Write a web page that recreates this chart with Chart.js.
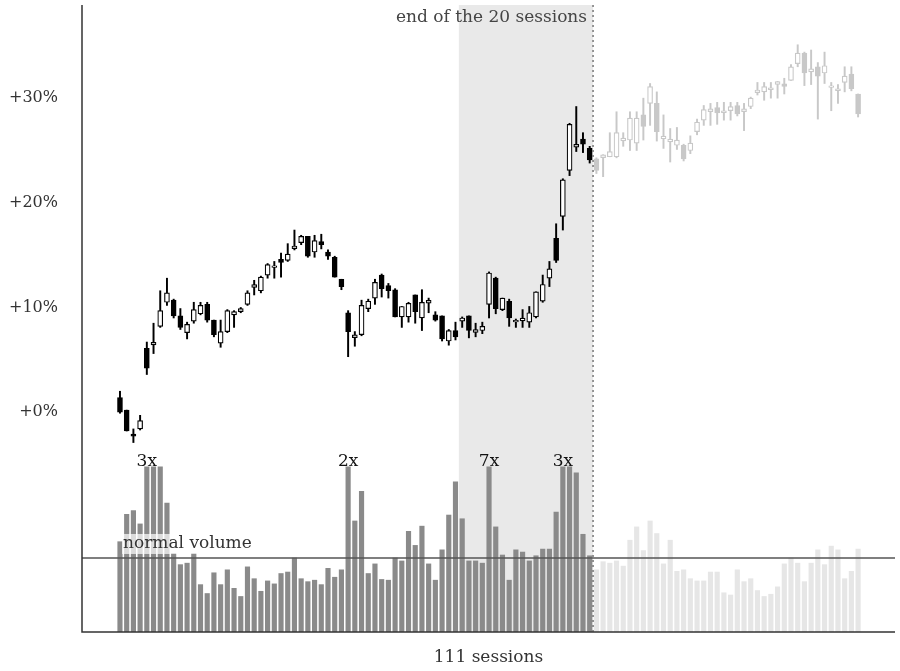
<!DOCTYPE html>
<html>
<head>
<meta charset="utf-8">
<script src="https://cdn.jsdelivr.net/npm/chart.js@4/dist/chart.umd.min.js"></script>
<style>
  html, body { margin: 0; padding: 0; background: #fff; overflow: hidden; }
</style>
</head>
<body>
<canvas id="chart" width="900" height="671"></canvas>
<script>
// daily candles, % change vs. start
const opens  = [1.4,0.2,-2.1,-1.6,6.1,6.5,8.2,10.5,10.7,9.2,7.6,8.7,9.4,10.3,8.8,6.6,7.7,9.3,9.6,10.3,
  12.0,11.6,13.1,13.9,14.6,14.5,15.7,16.2,16.8,15.3,16.3,15.3,14.8,12.7,9.5,7.2,7.4,9.9,10.9,13.1,
  12.1,11.7,9.1,9.1,11.2,9.0,10.5,9.3,9.2,6.8,7.8,8.7,9.2,7.7,7.8,10.3,12.8,9.8,10.6,8.7,
  8.8,8.6,9.1,10.6,12.8,16.6,18.7,23.1,25.4,26.1,25.2,24.2,24.4,24.4,24.4,26.0,26.0,25.7,28.4,29.5,
  29.5,26.2,25.9,25.5,25.5,25.0,26.8,27.9,28.8,29.1,28.7,28.8,29.3,28.8,29.2,30.6,30.6,30.9,31.4,31.3,
  31.7,33.3,34.3,32.5,33.0,32.4,31.1,30.8,31.5,32.3,30.4];
const highs  = [2.0,0.2,-1.6,-0.3,6.7,8.5,11.6,12.8,10.8,9.9,8.6,10.5,10.5,10.5,8.8,8.8,9.8,9.7,10.0,11.6,
  12.6,13.0,14.2,14.4,15.2,16.1,17.4,16.9,16.8,16.9,17.0,15.5,14.9,12.7,9.7,7.7,10.7,10.8,12.7,13.2,
  12.3,11.8,10.1,10.5,11.2,11.7,10.9,9.6,9.2,7.9,8.6,9.1,9.2,8.5,8.6,13.4,12.9,10.9,10.8,8.9,
  9.8,10.1,11.5,13.1,14.4,18.0,22.3,27.6,29.2,26.7,25.4,24.3,24.6,26.7,28.7,26.7,28.7,28.7,30.0,31.4,
  30.6,28.4,27.1,27.2,25.6,26.4,28.0,29.3,29.5,29.6,29.6,29.6,29.6,29.5,30.1,31.5,31.5,31.5,31.6,31.9,
  33.2,35.1,34.4,34.6,33.4,34.4,31.5,31.3,33.0,33.0,30.4];
const lows   = [-0.1,-1.8,-2.9,-1.7,3.6,5.6,8.1,10.2,9.0,7.9,7.0,8.5,9.3,8.6,7.2,6.2,7.6,8.1,9.5,10.2,
  11.2,11.4,12.8,12.8,12.9,14.4,15.5,16.0,14.8,14.8,15.6,14.6,12.9,11.7,5.3,6.3,7.3,9.6,10.3,11.0,
  10.9,9.1,8.1,8.6,8.5,7.8,9.5,8.7,6.8,6.4,6.9,8.1,7.1,7.2,7.5,9.0,9.4,9.7,8.2,8.1,
  8.1,8.1,9.0,10.5,12.0,14.3,17.4,22.6,24.9,24.8,23.8,22.8,22.5,24.4,24.3,25.4,25.0,25.0,26.0,27.4,
  25.9,25.2,23.9,25.1,24.0,24.7,26.5,27.4,27.4,27.5,27.9,27.9,28.3,26.9,29.0,30.3,29.8,30.0,30.0,30.4,
  31.7,33.0,31.2,31.3,28.0,31.4,28.8,29.5,30.6,30.7,28.2];
const closes = [0.0,-1.8,-2.3,-0.8,4.2,6.6,9.7,11.4,9.2,8.1,8.4,9.8,10.2,8.8,7.4,7.7,9.7,9.6,9.9,11.4,
  12.1,12.9,14.1,13.9,14.3,15.1,15.8,16.8,14.9,16.4,16.0,14.9,12.9,12.0,7.7,7.3,10.2,10.6,12.4,11.8,
  11.6,9.1,10.1,10.4,9.6,10.5,10.6,8.8,7.0,7.8,7.2,9.0,7.8,7.8,8.2,13.3,9.9,10.9,9.0,8.7,
  8.9,9.5,11.5,12.2,13.7,14.5,22.2,27.5,25.5,25.6,24.1,23.1,24.5,24.9,26.7,26.1,28.1,28.1,27.3,31.1,
  26.8,26.3,26.0,26.0,24.2,25.7,27.7,28.9,28.9,28.6,28.7,29.2,28.5,28.9,30.0,30.7,31.1,30.9,31.5,31.2,
  33.0,34.3,32.4,32.8,32.1,33.1,31.1,30.8,32.1,30.9,28.5];
// volume as multiple of normal volume
const volumes = [1.22,1.59,1.64,1.46,2.9,3.1,2.8,1.74,1.06,0.91,0.93,1.06,0.64,0.52,0.80,0.64,0.84,0.59,0.48,0.88,
  0.72,0.55,0.69,0.65,0.79,0.81,1.00,0.72,0.68,0.70,0.64,0.86,0.74,0.84,2.4,1.50,1.90,0.79,0.92,0.71,
  0.70,1.00,0.96,1.36,1.17,1.43,0.92,0.70,1.11,1.58,2.03,1.53,0.96,0.96,0.93,7.0,1.42,1.04,0.70,1.11,
  1.08,0.96,1.03,1.12,1.12,1.62,3.0,2.6,2.15,1.32,1.03,0.84,0.95,0.93,0.96,0.89,1.24,1.42,1.10,1.50,
  1.33,0.92,1.24,0.82,0.84,0.72,0.69,0.69,0.81,0.81,0.53,0.50,0.84,0.68,0.72,0.56,0.48,0.51,0.61,0.92,
  1.00,0.93,0.68,0.93,1.11,0.91,1.16,1.11,0.72,0.82,1.12];
const volumeNotes = [{ session: 5, text: "3x" }, { session: 35, text: "2x" }, { session: 56, text: "7x" }, { session: 67, text: "3x" }];
const yTicks = [0, 10, 20, 30];
const windowStart = 52, windowEnd = 71; // the 20 sessions
const volCap = 2.23;

const sessions = opens.map((_, i) => i + 1);
const isPast = s => s <= windowEnd;
const FONT = "'DejaVu Serif', serif";

const wicks = sessions.map((s, i) => ({ x: s, y: [lows[i], highs[i]] }));
const bodies = sessions.map((s, i) => {
  let lo = Math.min(opens[i], closes[i]), hi = Math.max(opens[i], closes[i]);
  if (hi - lo < 0.15) { lo -= 0.08; hi += 0.08; }
  return { x: s, y: [lo, hi] };
});
const vols = sessions.map((s, i) => ({ x: s, y: Math.min(volumes[i], volCap) }));

const ink = s => isPast(s) ? "#000" : "#c8c8c8";
const bodyFill = i => closes[i] < opens[i] ? ink(i + 1) : "#fff";

const decor = {
  id: "decor",
  beforeDatasetsDraw(chart) {
    const { ctx, chartArea: a, scales } = chart;
    const x = scales.x;
    ctx.save();
    ctx.fillStyle = "#e9e9e9";
    const x0 = x.getPixelForValue(windowStart - 0.5), x1 = x.getPixelForValue(windowEnd + 0.5);
    ctx.fillRect(x0, a.top, x1 - x0, a.bottom - a.top);
    ctx.restore();
  },
  afterDatasetsDraw(chart) {
    const { ctx, chartArea: a, scales } = chart;
    const x = scales.x, y = scales.y, yv = scales.yv;
    ctx.save();
    // dotted end line
    const xe = x.getPixelForValue(windowEnd + 0.5);
    ctx.strokeStyle = "#777"; ctx.lineWidth = 1.5; ctx.setLineDash([2, 3]);
    ctx.beginPath(); ctx.moveTo(xe, a.top); ctx.lineTo(xe, a.bottom); ctx.stroke();
    ctx.setLineDash([]);
    // normal volume line
    const yn = yv.getPixelForValue(1);
    ctx.fillStyle = "rgba(255,255,255,0.7)";
    ctx.fillRect(x.getPixelForValue(1) + 2, yn - 24, 134, 20);
    ctx.strokeStyle = "#555"; ctx.lineWidth = 1.5;
    ctx.beginPath(); ctx.moveTo(a.left, yn); ctx.lineTo(a.right, yn); ctx.stroke();
    ctx.font = "17px " + FONT; ctx.fillStyle = "#333";
    ctx.textAlign = "left"; ctx.textBaseline = "alphabetic";
    ctx.fillText("normal volume", x.getPixelForValue(1) + 3, yn - 10);
    // volume notes
    ctx.textAlign = "center"; ctx.fillStyle = "#111";
    volumeNotes.forEach(n => ctx.fillText(n.text, x.getPixelForValue(n.session), yv.getPixelForValue(volCap) - 1));
    // title of the window
    ctx.textAlign = "right"; ctx.fillStyle = "#444";
    ctx.fillText("end of the 20 sessions", xe - 6, a.top + 17);
    // axes
    ctx.strokeStyle = "#333"; ctx.lineWidth = 1.5;
    ctx.beginPath(); ctx.moveTo(a.left, a.top); ctx.lineTo(a.left, a.bottom); ctx.lineTo(a.right, a.bottom); ctx.stroke();
    ctx.font = "16px " + FONT;
    ctx.fillStyle = "#333"; ctx.textAlign = "right"; ctx.textBaseline = "middle";
    yTicks.forEach(t => ctx.fillText("+" + t + "%", 58, y.getPixelForValue(t)));
    ctx.font = "17px " + FONT;
    ctx.textAlign = "center"; ctx.textBaseline = "alphabetic";
    ctx.fillText("111 sessions", (a.left + a.right) / 2, a.bottom + 30);
    ctx.restore();
  }
};

new Chart(document.getElementById("chart"), {
  type: "bar",
  data: {
    datasets: [
      {
        label: "volume", data: vols, yAxisID: "yv",
        backgroundColor: vols.map(v => isPast(v.x) ? "#8a8a8a" : "#e6e6e6"),
        barThickness: 4.5, order: 3
      },
      {
        label: "wick", data: wicks, yAxisID: "y",
        backgroundColor: sessions.map(ink), barThickness: 1.3, order: 2
      },
      {
        label: "body", data: bodies, yAxisID: "y",
        backgroundColor: sessions.map((s, i) => bodyFill(i)),
        borderColor: sessions.map(ink), borderWidth: 1.2, borderSkipped: false,
        barThickness: 5, order: 1
      }
    ]
  },
  options: {
    responsive: false, animation: false, devicePixelRatio: 1,
    layout: { padding: { left: 82, right: 5, top: 5, bottom: 39 } },
    datasets: { bar: { grouped: false } },
    plugins: { legend: { display: false }, tooltip: { enabled: false } },
    scales: {
      x: { type: "linear", min: -4.66, max: 116.5, offset: false, display: false },
      y: { min: -21.0, max: 38.9, display: false },
      yv: { min: 0, max: 8.47, display: false }
    }
  },
  plugins: [decor]
});
</script>
</body>
</html>
